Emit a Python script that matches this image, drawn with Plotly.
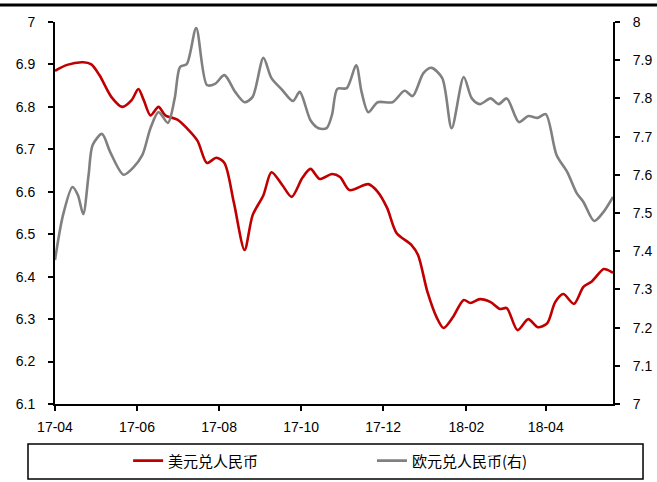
import plotly.graph_objects as go

# USD/CNY (left axis)
usd_dates = [
    "2017-04-01", "2017-04-10", "2017-04-22", "2017-04-28", "2017-05-04", "2017-05-13",
    "2017-05-21", "2017-05-28", "2017-06-02", "2017-06-06", "2017-06-11", "2017-06-17",
    "2017-06-22", "2017-07-01", "2017-07-08", "2017-07-16", "2017-07-23", "2017-07-30",
    "2017-08-05", "2017-08-12", "2017-08-20", "2017-08-26", "2017-09-03", "2017-09-09",
    "2017-09-17", "2017-09-24", "2017-10-02", "2017-10-08", "2017-10-15", "2017-10-24",
    "2017-10-30", "2017-11-06", "2017-11-20", "2017-11-27", "2017-12-04", "2017-12-11",
    "2017-12-22", "2017-12-27", "2018-01-03", "2018-01-10", "2018-01-15", "2018-01-22",
    "2018-01-30", "2018-02-04", "2018-02-11", "2018-02-19", "2018-02-26", "2018-03-03",
    "2018-03-11", "2018-03-19", "2018-03-26", "2018-04-02", "2018-04-08", "2018-04-14",
    "2018-04-22", "2018-04-29", "2018-05-05", "2018-05-14", "2018-05-17", "2018-05-21",
]
usd_values = [
    6.885, 6.899, 6.905, 6.900, 6.875, 6.823,
    6.800, 6.816, 6.842, 6.816, 6.780, 6.800,
    6.780, 6.770, 6.750, 6.720, 6.668, 6.680,
    6.668, 6.575, 6.463, 6.545, 6.592, 6.646,
    6.616, 6.588, 6.633, 6.654, 6.630, 6.642,
    6.635, 6.604, 6.618, 6.600, 6.562, 6.503,
    6.475, 6.451, 6.364, 6.303, 6.279, 6.305,
    6.345, 6.338, 6.347, 6.340, 6.324, 6.326,
    6.274, 6.300, 6.281, 6.290, 6.340, 6.359,
    6.336, 6.376, 6.388, 6.418, 6.416, 6.409,
]

# EUR/CNY (right axis)
eur_dates = [
    "2017-04-01", "2017-04-07", "2017-04-14", "2017-04-18", "2017-04-22", "2017-04-26",
    "2017-04-29", "2017-05-06", "2017-05-12", "2017-05-22", "2017-05-29", "2017-06-05",
    "2017-06-11", "2017-06-17", "2017-06-24", "2017-06-29", "2017-07-03", "2017-07-08",
    "2017-07-15", "2017-07-23", "2017-07-29", "2017-08-05", "2017-08-13", "2017-08-20",
    "2017-08-26", "2017-09-03", "2017-09-09", "2017-09-17", "2017-09-25", "2017-09-30",
    "2017-10-08", "2017-10-14", "2017-10-20", "2017-10-24", "2017-10-28", "2017-11-04",
    "2017-11-11", "2017-11-15", "2017-11-20", "2017-11-27", "2017-12-08", "2017-12-17",
    "2017-12-23", "2017-12-31", "2018-01-06", "2018-01-14", "2018-01-21", "2018-01-30",
    "2018-02-05", "2018-02-11", "2018-02-19", "2018-02-25", "2018-03-03", "2018-03-12",
    "2018-03-19", "2018-03-26", "2018-04-01", "2018-04-09", "2018-04-17", "2018-04-24",
    "2018-04-29", "2018-05-07", "2018-05-14", "2018-05-21",
]
eur_values = [
    7.377, 7.495, 7.568, 7.547, 7.497, 7.600,
    7.678, 7.707, 7.660, 7.600, 7.618, 7.652,
    7.722, 7.764, 7.736, 7.800, 7.882, 7.890,
    7.984, 7.835, 7.838, 7.861, 7.817, 7.790,
    7.804, 7.906, 7.853, 7.822, 7.793, 7.817,
    7.743, 7.722, 7.722, 7.757, 7.825, 7.827,
    7.887, 7.817, 7.764, 7.790, 7.790, 7.820,
    7.806, 7.866, 7.880, 7.853, 7.722, 7.856,
    7.800, 7.785, 7.800, 7.785, 7.800, 7.738,
    7.754, 7.749, 7.759, 7.652, 7.607, 7.552,
    7.529, 7.479, 7.503, 7.542,
]

usd_name = "美元兑人民币"
eur_name = "欧元兑人民币(右)"

x_range = ["2017-04-01", "2018-05-21"]
left_range = [6.1, 7.0]
right_range = [7.0, 8.0]

tick_font = dict(family="Liberation Sans, Arial", size=14, color="#000000")
legend_font = dict(family="Noto Sans CJK SC", size=15, color="#000000")

fig = go.Figure()
fig.add_trace(go.Scatter(
    x=usd_dates, y=usd_values, name=usd_name, mode="lines",
    line=dict(color="#C00000", width=2.6, shape="spline", smoothing=0.8),
    yaxis="y", legend="legend",
))
fig.add_trace(go.Scatter(
    x=eur_dates, y=eur_values, name=eur_name, mode="lines",
    line=dict(color="#808080", width=2.6, shape="spline", smoothing=0.8),
    yaxis="y2", legend="legend2",
))

axis_common = dict(
    showgrid=False, zeroline=False, showline=True, linecolor="#000000", linewidth=2,
    ticks="outside", ticklen=5, tickwidth=1.5, tickcolor="#000000", tickfont=tick_font,
    automargin=False,
)

legend_common = dict(
    orientation="h", yanchor="middle", y=-0.149, xanchor="left",
    font=legend_font, bgcolor="rgba(0,0,0,0)", borderwidth=0,
)

fig.update_layout(
    width=657, height=482,
    margin=dict(l=55, r=44, t=22, b=78, autoexpand=False),
    paper_bgcolor="#ffffff", plot_bgcolor="#ffffff",
    showlegend=True,
    legend=dict(x=0.131, **legend_common),
    legend2=dict(x=0.568, **legend_common),
    xaxis=dict(
        type="date", range=x_range, tick0="2017-04-01", dtick="M2",
        tickformat="%y-%m", ticklabelstandoff=4, **axis_common,
    ),
    yaxis=dict(range=left_range, dtick=0.1, tick0=6.1, ticklabelstandoff=10, **axis_common),
    yaxis2=dict(range=right_range, dtick=0.1, tick0=7.0, overlaying="y", side="right",
                ticklabelstandoff=10, **axis_common),
    shapes=[
        # rule across the top of the page
        dict(type="line", xref="paper", yref="paper", x0=-0.0986, x1=1.0789,
             y0=1.0445, y1=1.0445, line=dict(color="#000000", width=3)),
        # frame around the legend
        dict(type="rect", xref="paper", yref="paper", x0=-0.0484, x1=1.0538,
             y0=-0.1963, y1=-0.1047, line=dict(color="#000000", width=1.5),
             fillcolor="rgba(0,0,0,0)"),
    ],
)

fig.write_html("out.html")
